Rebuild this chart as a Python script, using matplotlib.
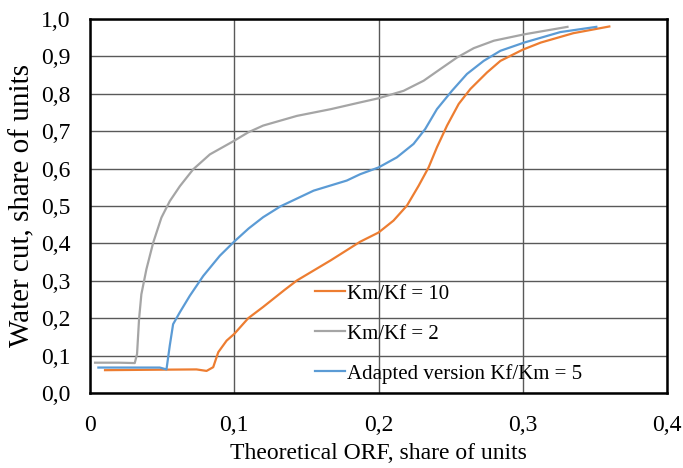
import matplotlib
matplotlib.use("Agg")
import matplotlib.pyplot as plt
from matplotlib.ticker import FuncFormatter

plt.rcParams['font.family'] = ['Liberation Serif', 'DejaVu Serif']

# Km/Kf = 10
x_orange = [0.0104, 0.04, 0.0738, 0.0808, 0.0854, 0.0889, 0.0947, 0.100, 0.1097, 0.120, 0.135,
            0.1435, 0.167, 0.1873, 0.200, 0.2104, 0.2197, 0.2278, 0.2347, 0.2405, 0.2475,
            0.2556, 0.2637, 0.2752, 0.2845, 0.300, 0.3125, 0.335, 0.360]
y_orange = [0.061, 0.062, 0.063, 0.059, 0.069, 0.109, 0.140, 0.158, 0.200, 0.230, 0.276,
            0.301, 0.355, 0.4045, 0.429, 0.461, 0.501, 0.554, 0.603, 0.657, 0.715,
            0.773, 0.813, 0.857, 0.888, 0.918, 0.937, 0.962, 0.980]

# Km/Kf = 2
x_grey = [0.0035, 0.02, 0.031, 0.0326, 0.034, 0.0356, 0.0391, 0.0438, 0.0495, 0.0553, 0.0623,
          0.0715, 0.0831, 0.0993, 0.1097, 0.120, 0.1435, 0.167, 0.1873, 0.200, 0.2174, 0.2313,
          0.2428, 0.2544, 0.266, 0.280, 0.301, 0.331]
y_grey = [0.081, 0.081, 0.080, 0.104, 0.198, 0.264, 0.331, 0.402, 0.469, 0.513, 0.553,
          0.598, 0.638, 0.673, 0.697, 0.715, 0.741, 0.759, 0.777, 0.788, 0.808, 0.835,
          0.866, 0.897, 0.922, 0.942, 0.959, 0.979]

# Adapted version Kf/Km = 5
x_blue = [0.0058, 0.03, 0.0484, 0.053, 0.0553, 0.0576, 0.0623, 0.0692, 0.0785, 0.090, 0.100,
          0.110, 0.120, 0.132, 0.155, 0.178, 0.1873, 0.200, 0.2127, 0.2243, 0.2324, 0.2405,
          0.2509, 0.2613, 0.2729, 0.2845, 0.301, 0.326, 0.351]
y_blue = [0.068, 0.068, 0.068, 0.063, 0.127, 0.184, 0.216, 0.260, 0.313, 0.367, 0.405,
          0.440, 0.470, 0.499, 0.541, 0.568, 0.585, 0.603, 0.630, 0.666, 0.706, 0.759,
          0.808, 0.853, 0.888, 0.915, 0.937, 0.965, 0.979]

labels = ["Km/Kf = 10", "Km/Kf = 2", "Adapted version Kf/Km = 5"]
colors = ["#ED7D31", "#A5A5A5", "#5B9BD5"]

fig = plt.figure(figsize=(6.83, 4.68), dpi=100)
ax = fig.add_axes([0.1318, 0.1603, 0.8448, 0.7991])

ax.plot(x_orange, y_orange, color=colors[0], lw=1.6, label=labels[0])
ax.plot(x_grey, y_grey, color=colors[1], lw=1.6, label=labels[1])
ax.plot(x_blue, y_blue, color=colors[2], lw=1.6, label=labels[2])

ax.set_xlim(0, 0.4)
ax.set_ylim(0, 1.0)
ax.set_xticks([0, 0.1, 0.2, 0.3, 0.4])
ax.set_yticks([i / 10 for i in range(11)])

ax.xaxis.set_major_formatter(FuncFormatter(lambda v, p: "0" if abs(v) < 1e-9 else f"{v:.1f}".replace(".", ",")))
ax.yaxis.set_major_formatter(FuncFormatter(lambda v, p: f"{v:.1f}".replace(".", ",")))

ax.tick_params(length=0, labelsize=17)
ax.tick_params(axis='y', pad=14)
ax.tick_params(axis='x', pad=16)
ax.grid(True, color="#595959", lw=1.0)
ax.set_axisbelow(True)
for s in ax.spines.values():
    s.set_linewidth(1.8)
    s.set_color("black")

ax.set_xlabel("Theoretical ORF, share of units", fontsize=17, labelpad=5)
ax.set_ylabel("Water cut, share of units", fontsize=21, labelpad=4)

ax.legend(loc="upper left", bbox_to_anchor=(0.39, 0.291), frameon=False, fontsize=15,
          handlelength=1.45, handletextpad=0.1, labelspacing=0.97, borderaxespad=0,
          borderpad=0)

fig.savefig("out.png", dpi=100)
